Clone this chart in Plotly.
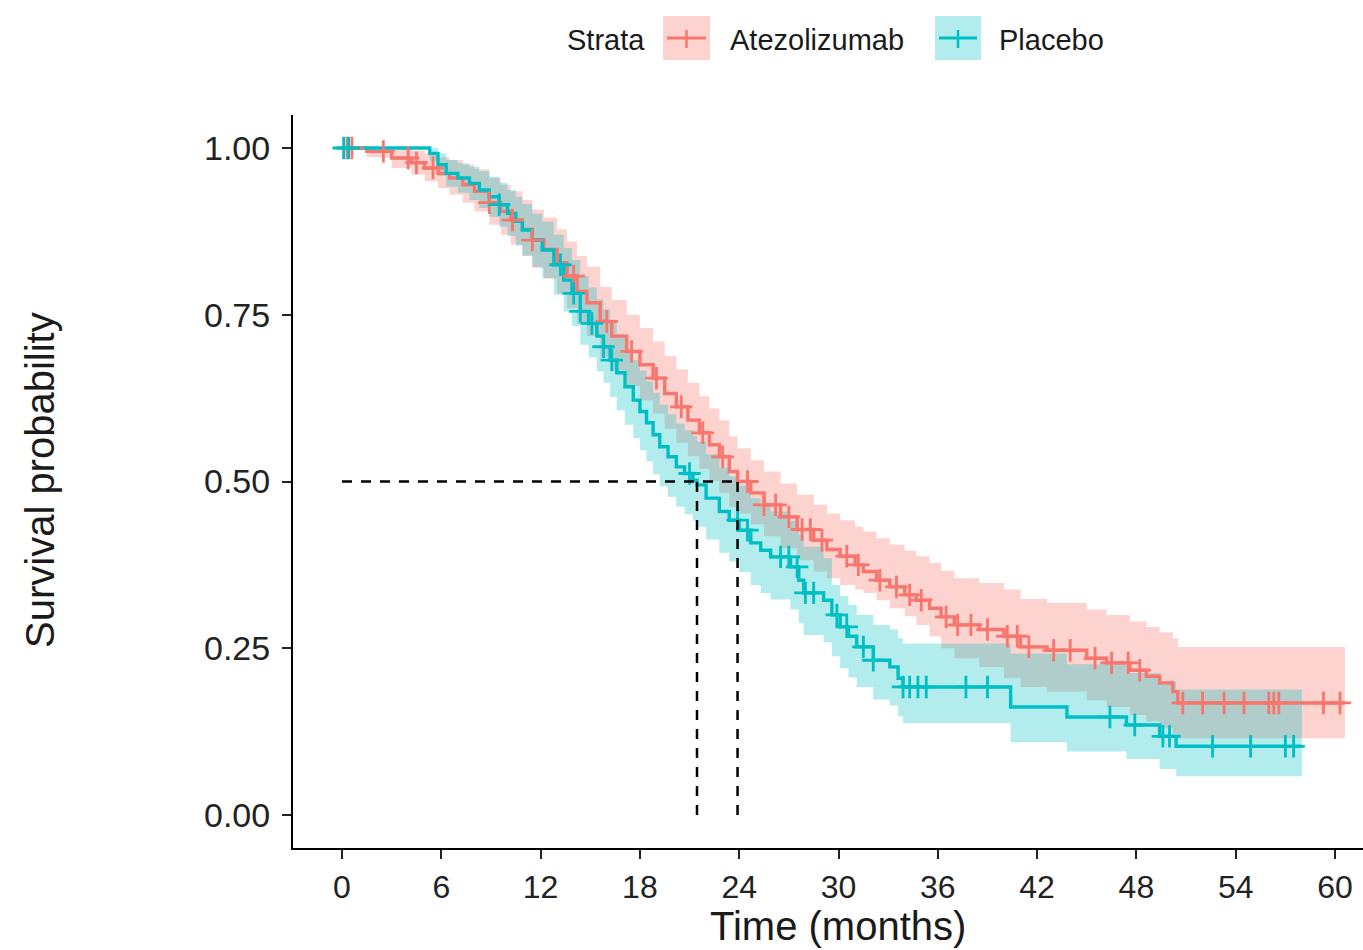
import numpy as np
import plotly.graph_objects as go

# ---------------- data ----------------
atezo_t = [0, 1.5, 3.0, 4.2, 5.0, 5.8, 6.5, 7.3, 8.0, 8.9, 9.6, 10.2, 10.9, 11.5, 12.2, 13.0,
           13.6, 14.2, 14.8, 15.6, 16.3, 17.2, 18.0, 18.8, 19.5, 20.2, 20.9, 21.6, 22.2, 22.8,
           23.4, 23.9, 24.7, 25.5, 26.5, 27.5, 28.5, 29.3, 30.1, 31.0, 31.5, 32.3, 33.1, 34.0,
           34.7, 35.5, 36.2, 37.0, 38.5, 40.0, 41.0, 42.6, 45.0, 46.2, 47.6, 48.6, 49.4, 50.2,
           50.5, 60.6]
atezo_s = [1.0, 0.995, 0.985, 0.978, 0.970, 0.962, 0.955, 0.945, 0.935, 0.918, 0.905, 0.892,
           0.878, 0.862, 0.848, 0.828, 0.808, 0.785, 0.768, 0.740, 0.718, 0.695, 0.675, 0.655,
           0.632, 0.612, 0.592, 0.573, 0.555, 0.537, 0.515, 0.500, 0.483, 0.465, 0.447, 0.428,
           0.412, 0.398, 0.388, 0.375, 0.365, 0.352, 0.342, 0.330, 0.322, 0.310, 0.297, 0.285,
           0.278, 0.268, 0.252, 0.247, 0.235, 0.228, 0.217, 0.208, 0.198, 0.185, 0.168, 0.168]
atezo_lo = [1.0, 0.986, 0.970, 0.960, 0.950, 0.940, 0.930, 0.918, 0.905, 0.885, 0.870, 0.855,
            0.838, 0.820, 0.804, 0.782, 0.760, 0.736, 0.718, 0.686, 0.666, 0.643, 0.622, 0.602,
            0.579, 0.558, 0.538, 0.519, 0.501, 0.483, 0.462, 0.452, 0.436, 0.418, 0.400, 0.382,
            0.365, 0.355, 0.345, 0.338, 0.333, 0.322, 0.310, 0.298, 0.285, 0.268, 0.250, 0.235,
            0.222, 0.205, 0.192, 0.185, 0.172, 0.162, 0.150, 0.140, 0.130, 0.122, 0.115, 0.115]
atezo_hi = [1.0, 1.0, 1.0, 0.996, 0.992, 0.986, 0.982, 0.975, 0.968, 0.955, 0.945, 0.935,
            0.922, 0.908, 0.896, 0.878, 0.860, 0.838, 0.822, 0.792, 0.772, 0.750, 0.730, 0.710,
            0.688, 0.668, 0.648, 0.628, 0.610, 0.592, 0.568, 0.550, 0.532, 0.515, 0.497, 0.480,
            0.465, 0.452, 0.442, 0.432, 0.425, 0.415, 0.405, 0.396, 0.388, 0.378, 0.366, 0.355,
            0.348, 0.338, 0.324, 0.318, 0.308, 0.300, 0.290, 0.282, 0.274, 0.265, 0.252, 0.252]

placebo_t = [0, 5.3, 5.8, 6.3, 7.0, 7.7, 8.3, 8.9, 9.5, 10.0, 10.5, 10.9, 11.5, 12.1, 12.8,
             13.4, 13.9, 14.4, 14.9, 15.4, 15.8, 16.2, 16.6, 17.1, 17.6, 18.0, 18.4, 18.8, 19.2,
             19.7, 20.2, 20.7, 21.2, 21.45, 22.0, 22.8, 23.4, 24.0, 24.7, 25.3, 25.9, 27.1, 27.6,
             27.9, 29.1, 29.6, 30.1, 30.6, 31.1, 32.1, 33.1, 33.6, 33.9, 40.4, 43.8, 47.4, 49.4,
             50.4, 58.0]
placebo_s = [1.0, 0.992, 0.975, 0.962, 0.955, 0.947, 0.937, 0.927, 0.915, 0.902, 0.890, 0.877,
             0.862, 0.847, 0.825, 0.802, 0.782, 0.755, 0.737, 0.718, 0.702, 0.682, 0.663, 0.642,
             0.622, 0.605, 0.588, 0.570, 0.552, 0.537, 0.522, 0.512, 0.502, 0.495, 0.475, 0.455,
             0.442, 0.427, 0.408, 0.397, 0.387, 0.372, 0.352, 0.333, 0.322, 0.300, 0.282, 0.268,
             0.252, 0.232, 0.222, 0.205, 0.192, 0.162, 0.147, 0.135, 0.118, 0.103, 0.103]
placebo_lo = [1.0, 0.980, 0.958, 0.942, 0.933, 0.922, 0.910, 0.897, 0.882, 0.868, 0.854, 0.839,
              0.822, 0.805, 0.780, 0.755, 0.733, 0.705, 0.686, 0.665, 0.648, 0.627, 0.607, 0.585,
              0.565, 0.547, 0.530, 0.511, 0.493, 0.477, 0.462, 0.451, 0.441, 0.432, 0.413, 0.393,
              0.380, 0.364, 0.345, 0.333, 0.323, 0.308, 0.288, 0.270, 0.259, 0.238, 0.220, 0.206,
              0.192, 0.173, 0.164, 0.148, 0.138, 0.109, 0.095, 0.084, 0.069, 0.058, 0.058]
placebo_hi = [1.0, 1.0, 0.992, 0.982, 0.977, 0.972, 0.965, 0.957, 0.948, 0.937, 0.927, 0.916,
              0.902, 0.890, 0.870, 0.850, 0.832, 0.808, 0.791, 0.773, 0.758, 0.739, 0.721, 0.701,
              0.682, 0.666, 0.650, 0.633, 0.615, 0.601, 0.587, 0.577, 0.568, 0.560, 0.541, 0.521,
              0.508, 0.494, 0.475, 0.464, 0.455, 0.441, 0.420, 0.402, 0.385, 0.345, 0.328, 0.315,
              0.300, 0.285, 0.278, 0.265, 0.257, 0.242, 0.226, 0.213, 0.200, 0.188, 0.188]

atezo_censor = [0.3, 0.6, 2.5, 4.0, 4.5, 5.5, 8.9, 10.3, 11.5, 14.0, 16.0, 17.5, 19.0, 20.5,
                21.8, 23.0, 24.5, 25.5, 26.2, 27.0, 27.8, 28.3, 29.0, 30.5, 31.2, 32.5, 33.5,
                34.3, 35.0, 36.5, 37.2, 38.0, 39.0, 40.2, 40.8, 41.5, 43.0, 44.0, 45.5, 46.5,
                47.5, 48.2, 50.8, 52.0, 53.3, 54.5, 56.0, 56.3, 56.6, 59.3, 60.3]
placebo_censor = [0.1, 0.4, 9.5, 13.2, 14.0, 14.4, 15.1, 15.8, 16.3, 21.0, 23.9, 24.5, 26.5,
                  27.0, 27.5, 28.0, 28.5, 29.9, 30.5, 31.5, 32.1, 33.9, 34.3, 34.8, 35.3, 37.7,
                  39.0, 46.4, 47.9, 49.6, 50.0, 52.6, 54.9, 57.0, 57.5]

median_times = [23.9, 21.45]
median_level = 0.5
x_ticks = [0, 6, 12, 18, 24, 30, 36, 42, 48, 54, 60]
y_ticks = [0.0, 0.25, 0.5, 0.75, 1.0]
y_ticktext = ["0.00", "0.25", "0.50", "0.75", "1.00"]
strata = ["Atezolizumab", "Placebo"]

# ---------------- styling ----------------
RED = "#F8766D"
TEAL = "#00BFC4"
RED_FILL = "rgba(248,118,109,0.32)"
TEAL_FILL = "rgba(0,191,196,0.30)"
FONT = "Liberation Sans, Arial, sans-serif"

W, H = 1363, 950
ML, MR, MT, MB = 293, 0, 115, 102


def step_value(times, surv, t):
    idx = np.searchsorted(np.asarray(times), t, side="right") - 1
    return np.asarray(surv)[np.clip(idx, 0, len(surv) - 1)]


groups = [
    (atezo_t, atezo_s, atezo_lo, atezo_hi, atezo_censor, RED, RED_FILL),
    (placebo_t, placebo_s, placebo_lo, placebo_hi, placebo_censor, TEAL, TEAL_FILL),
]

fig = go.Figure()

# confidence bands
for t, s, lo, hi, cen, col, fcol in groups:
    fig.add_trace(go.Scatter(x=t, y=lo, mode="lines", line=dict(width=0, shape="hv"),
                             showlegend=False, hoverinfo="skip"))
    fig.add_trace(go.Scatter(x=t, y=hi, mode="lines", line=dict(width=0, shape="hv"),
                             fill="tonexty", fillcolor=fcol, showlegend=False, hoverinfo="skip"))

# survival curves
for (t, s, lo, hi, cen, col, fcol), name in zip(groups, strata):
    fig.add_trace(go.Scatter(x=t, y=s, mode="lines", line=dict(color=col, width=3.4, shape="hv"),
                             name=name, showlegend=False))

# censor marks
for (t, s, lo, hi, cen, col, fcol), name in zip(groups, strata):
    cy = step_value(t, s, np.asarray(cen))
    fig.add_trace(go.Scatter(x=cen, y=cy, mode="markers",
                             marker=dict(symbol="cross-thin", size=16,
                                         line=dict(color=col, width=2.8)),
                             showlegend=False, hoverinfo="skip"))

# median lines
fig.add_trace(go.Scatter(x=[0, max(median_times)], y=[median_level, median_level], mode="lines",
                         line=dict(color="black", width=2.5, dash="10px,9px"),
                         showlegend=False, hoverinfo="skip"))
for m in median_times:
    fig.add_trace(go.Scatter(x=[m, m], y=[0, median_level], mode="lines",
                             line=dict(color="black", width=2.5, dash="10px,9px"),
                             showlegend=False, hoverinfo="skip"))

plot_w = W - ML - MR
plot_h = H - MT - MB


def px(xp):
    return (xp - ML) / plot_w


def py(yp):
    return (H - MB - yp) / plot_h


shapes = []
annotations = []

# manual legend (legend keys with band box, line and cross)
annotations.append(dict(text="Strata", x=px(565), y=py(40), xref="paper", yref="paper",
                        xanchor="left", yanchor="middle", showarrow=False,
                        font=dict(family=FONT, size=29, color="#1a1a1a")))
legend_keys = [(663, 710, 728, RED, RED_FILL, strata[0]),
               (935, 981, 997, TEAL, TEAL_FILL, strata[1])]
for x0, x1, xt, col, fcol, name in legend_keys:
    shapes.append(dict(type="rect", xref="paper", yref="paper", x0=px(x0), x1=px(x1),
                       y0=py(60), y1=py(16), fillcolor=fcol, line=dict(width=0), layer="above"))
    shapes.append(dict(type="line", xref="paper", yref="paper", x0=px(x0 + 4), x1=px(x1 - 4),
                       y0=py(38), y1=py(38), line=dict(color=col, width=3), layer="above"))
    xm = (x0 + x1) / 2
    shapes.append(dict(type="line", xref="paper", yref="paper", x0=px(xm), x1=px(xm),
                       y0=py(30), y1=py(48), line=dict(color=col, width=2.5), layer="above"))
    annotations.append(dict(text=name, x=px(xt), y=py(40), xref="paper", yref="paper",
                            xanchor="left", yanchor="middle", showarrow=False,
                            font=dict(family=FONT, size=29, color="#1a1a1a")))

# axis titles
annotations.append(dict(text="Time (months)", x=px(838), y=py(926), xref="paper", yref="paper",
                        xanchor="center", yanchor="middle", showarrow=False,
                        font=dict(family=FONT, size=40, color="#1a1a1a")))
annotations.append(dict(text="Survival probability", x=px(40), y=py(480), xref="paper",
                        yref="paper", xanchor="center", yanchor="middle", showarrow=False,
                        textangle=-90, font=dict(family=FONT, size=40, color="#1a1a1a")))

fig.update_layout(
    width=W, height=H,
    margin=dict(l=ML, r=MR, t=MT, b=MB, pad=0),
    paper_bgcolor="white", plot_bgcolor="white",
    showlegend=False,
    shapes=shapes, annotations=annotations,
    xaxis=dict(range=[-2.96, 61.69], tickvals=x_ticks, showgrid=False, zeroline=False,
               showline=True, linecolor="black", linewidth=2, ticks="outside", ticklen=9,
               tickwidth=2, tickcolor="#222", ticklabelstandoff=1,
               tickfont=dict(family=FONT, size=32, color="#222")),
    yaxis=dict(range=[-0.0495, 1.0495], tickvals=y_ticks, ticktext=y_ticktext, showgrid=False,
               zeroline=False, showline=True, linecolor="black", linewidth=2, ticks="outside",
               ticklen=9, tickwidth=2, tickcolor="#222", ticklabelstandoff=5,
               tickfont=dict(family=FONT, size=34, color="#222")),
)

fig.write_html("out.html")
